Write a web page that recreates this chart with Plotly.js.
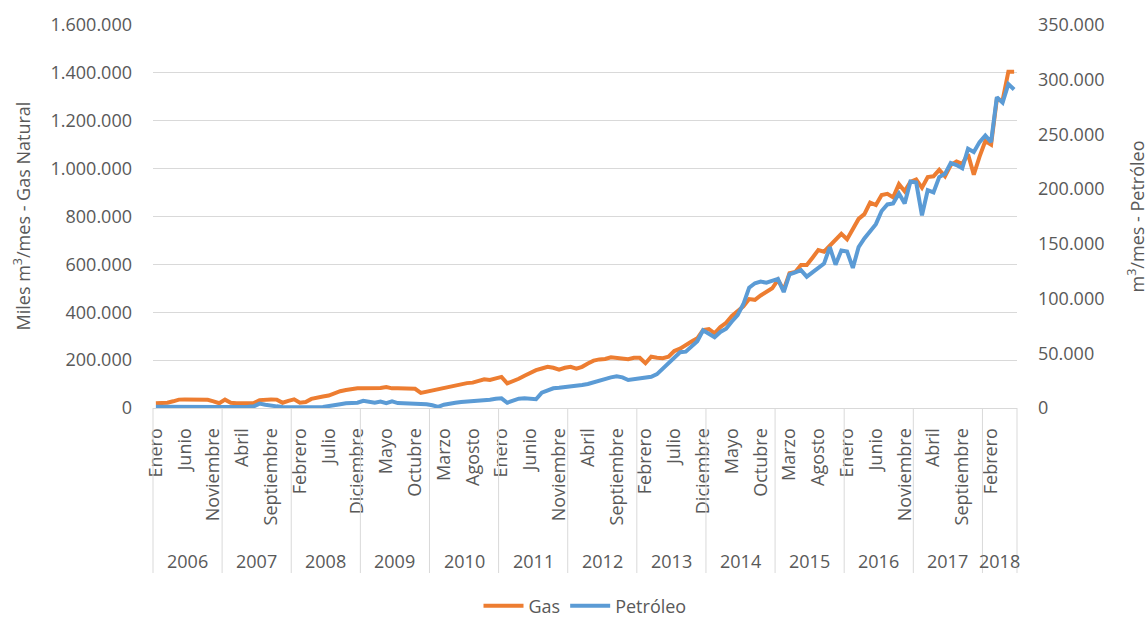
<!DOCTYPE html>
<html>
<head>
<meta charset="utf-8">
<script src="https://cdn.plot.ly/plotly-3.0.1.min.js"></script>
<style>html,body{margin:0;padding:0;background:#fff;}#chart{width:1148px;height:617px;}</style>
</head>
<body>
<div id="chart"></div>
<script>
// ---- Data ----
const years = ['2006','2007','2008','2009','2010','2011','2012','2013','2014','2015','2016','2017','2018'];
const monthsInYear = [12,12,12,12,12,12,12,12,12,12,12,12,6];
const tickLabels = ['Enero','Junio','Noviembre','Abril','Septiembre','Febrero','Julio','Diciembre','Mayo','Octubre',
                    'Marzo','Agosto','Enero','Junio','Noviembre','Abril','Septiembre','Febrero','Julio','Diciembre',
                    'Mayo','Octubre','Marzo','Agosto','Enero','Junio','Noviembre','Abril','Septiembre','Febrero'];
const tickStep = 5;

// Gas natural, miles m3/mes (left axis)
const gas = [
  20000, 21000, 22000, 28000, 35000, 36000, 36000, 36000, 36000, 34000, 28000, 20000,
  35000, 22000, 20000, 20000, 20000, 21000, 33000, 36000, 36000, 35000, 22000, 30000,
  36000, 22000, 25000, 38000, 45000, 48000, 52000, 62000, 70000, 75000, 80000, 82000,
  82000, 82000, 86000, 84000, 88000, 82000, 82000, 82000, 82000, 80000, 63000, 68000,
  74000, 78000, 86000, 92000, 97000, 101000, 104000, 106000, 112000, 120000, 117000, 122000,
  130000, 103000, 112000, 122000, 135000, 148000, 158000, 165000, 172000, 168000, 160000, 168000,
  172000, 164000, 172000, 186000, 198000, 203000, 205000, 212000, 208000, 206000, 204000, 210000,
  210000, 187000, 214000, 210000, 208000, 214000, 238000, 248000, 265000, 278000, 291000, 326000,
  330000, 312000, 338000, 356000, 385000, 405000, 425000, 455000, 452000, 470000, 485000, 500000,
  535000, 493000, 563000, 568000, 597000, 597000, 628000, 660000, 653000, 678000, 705000, 728000,
  705000, 745000, 790000, 810000, 858000, 848000, 890000, 895000, 880000, 935000, 905000, 945000,
  955000, 920000, 965000, 968000, 995000, 968000, 1015000, 1030000, 1020000, 1060000, 975000, 1050000,
  1115000, 1100000, 1290000, 1285000, 1405000, 1405000
];

// Petróleo, m3/mes (right axis)
const petroleo = [
  1200, 1100, 1000, 1000, 1100, 1000, 1000, 1100, 1000, 1000, 1000, 900,
  1000, 900, 900, 1000, 1100, 1500, 4000, 3000, 2000, 1500, 1000, 800,
  600, 500, 500, 600, 700, 900, 1500, 2500, 3500, 4300, 4600, 4800,
  6500, 5500, 4800, 5800, 4400, 6000, 4500, 4400, 4300, 4300, 4200, 3500,
  2500, 1000, 3000, 4300, 4800, 5500, 5800, 6000, 6500, 6800, 7500, 8500,
  8800, 4800, 6500, 8500, 8800, 8200, 8000, 14000, 16000, 18000, 18500, 19000,
  19500, 20000, 21000, 22000, 23500, 25500, 27000, 28000, 29000, 28000, 25600, 26500,
  27000, 27500, 28600, 31000, 36000, 40000, 46000, 51000, 51500, 56000, 61000, 71000,
  68000, 64600, 69500, 72500, 79000, 85000, 95000, 110000, 114000, 115500, 114500, 116000,
  118000, 106000, 122000, 124000, 126000, 120000, 124000, 127000, 132000, 147000, 131000, 144000,
  143000, 128000, 147000, 155000, 162000, 168000, 180000, 186000, 187000, 196000, 187000, 207000,
  206000, 176000, 199000, 197000, 211000, 214000, 224000, 222000, 219000, 237000, 234000, 243000,
  249000, 243000, 284000, 279000, 296000, 291000
];

// ---- Build ----
const n = gas.length;
const xIdx = gas.map((_, i) => i);
const tickVals = tickLabels.map((_, k) => k * tickStep);

const FONT = 'Open Sans, Lato, sans-serif';
const TXT = '#595959';
const GRID = '#d9d9d9';
const FS = 18;

// year boundaries
const bounds = [0];
monthsInYear.forEach(m => bounds.push(bounds[bounds.length - 1] + m));

const plotTop = 25, plotBottom = 408, plotLeft = 153, plotRight = 1017;
const plotH = plotBottom - plotTop, plotW = plotRight - plotLeft;
const sepBottom = -(573 - plotBottom) / plotH;
const yearY = -(561 - plotBottom) / plotH;

const shapes = bounds.map(b => ({
  type: 'line', xref: 'paper', yref: 'paper',
  x0: b / n, x1: b / n, y0: 0, y1: sepBottom,
  line: {color: GRID, width: 1}
}));

const annotations = years.map((y, k) => ({
  xref: 'x', yref: 'paper',
  x: (bounds[k] + bounds[k + 1]) / 2 - 0.5,
  y: yearY, text: y, showarrow: false,
  xanchor: 'center', yanchor: 'middle',
  font: {family: FONT, size: FS, color: TXT}
}));
annotations.push({
  xref: 'paper', yref: 'paper', x: (22 - plotLeft) / plotW, y: 0.5,
  text: 'Miles m<sup>3</sup>/mes - Gas Natural', textangle: -90, showarrow: false,
  xanchor: 'center', yanchor: 'middle',
  font: {family: FONT, size: FS, color: TXT}
});
annotations.push({
  xref: 'paper', yref: 'paper', x: (1136 - plotLeft) / plotW, y: 0.5,
  text: 'm<sup>3</sup>/mes - Petróleo', textangle: -90, showarrow: false,
  xanchor: 'center', yanchor: 'middle',
  font: {family: FONT, size: FS, color: TXT}
});

const traces = [
  {x: xIdx, y: gas, name: 'Gas', type: 'scatter', mode: 'lines',
   line: {color: '#ED7D31', width: 4}, yaxis: 'y'},
  {x: xIdx, y: petroleo, name: 'Petróleo', type: 'scatter', mode: 'lines',
   line: {color: '#5B9BD5', width: 4}, yaxis: 'y2'}
];

const layout = {
  width: 1148, height: 617,
  margin: {l: plotLeft, r: 1148 - plotRight, t: plotTop, b: 617 - plotBottom, autoexpand: false},
  paper_bgcolor: '#ffffff', plot_bgcolor: '#ffffff',
  font: {family: FONT, size: FS, color: TXT},
  separators: ',.',
  showlegend: true,
  legend: {orientation: 'h', x: 0.5, xanchor: 'center', y: -(606 - plotBottom) / plotH, yanchor: 'middle',
           font: {family: FONT, size: FS, color: TXT}, itemwidth: 40, bgcolor: 'rgba(0,0,0,0)'},
  xaxis: {
    range: [-0.5, n - 0.5], tickmode: 'array', tickvals: tickVals, ticktext: tickLabels,
    tickangle: -90, showgrid: false, zeroline: false, showline: true, linecolor: GRID, linewidth: 1,
    ticks: '', ticklabelstandoff: 12, tickfont: {family: FONT, size: FS, color: TXT}, fixedrange: true,
    automargin: false
  },
  yaxis: {
    range: [0, 1600000], dtick: 200000, tick0: 0, tickformat: ',.0f',
    showgrid: true, gridcolor: GRID, gridwidth: 1, zeroline: false, showline: false,
    ticks: '', ticklabelstandoff: 20, tickfont: {family: FONT, size: FS, color: TXT}, automargin: false
  },
  yaxis2: {
    range: [0, 350000], dtick: 50000, tick0: 0, tickformat: ',.0f',
    overlaying: 'y', side: 'right', showgrid: false, zeroline: false, showline: false,
    ticks: '', ticklabelstandoff: 20, tickfont: {family: FONT, size: FS, color: TXT}, automargin: false
  },
  shapes: shapes,
  annotations: annotations
};

Plotly.newPlot('chart', traces, layout, {displayModeBar: false, staticPlot: true});
</script>
</body>
</html>
